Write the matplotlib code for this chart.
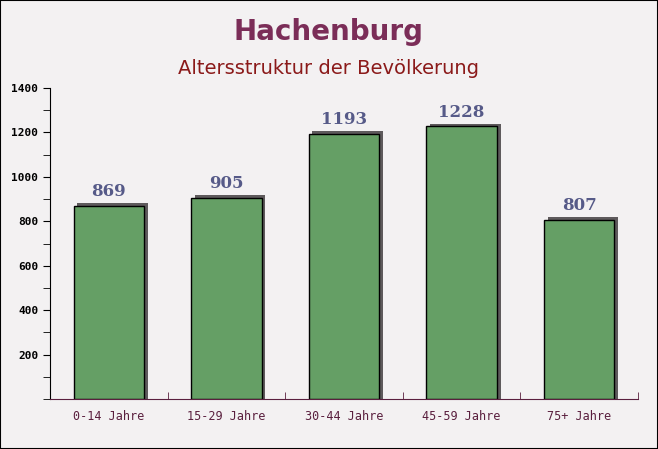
import matplotlib
matplotlib.use('Agg')
import matplotlib.pyplot as plt
from matplotlib.ticker import MultipleLocator

categories = ['0-14 Jahre', '15-29 Jahre', '30-44 Jahre', '45-59 Jahre', '75+ Jahre']
values = [869, 905, 1193, 1228, 807]
y_ticks = [200, 400, 600, 800, 1000, 1200, 1400]

bg = '#f3f1f2'
bar_color = '#659f65'
shadow_color = '#5e5a5c'
label_color = '#5a1f3e'

fig = plt.figure(figsize=(6.58, 4.49), dpi=100, facecolor=bg)
fig.patches.append(plt.Rectangle((0, 0), 1, 1, transform=fig.transFigure,
                                 fill=False, edgecolor='black', linewidth=1.5))
ax = fig.add_axes([50 / 658, 50 / 449, 588 / 658, 311 / 449])
ax.set_facecolor('none')

x = list(range(len(categories)))
# shadow behind each bar
ax.bar([i + 0.032 for i in x], [v + 12 for v in values], width=0.6,
       color=shadow_color, zorder=1)
ax.bar(x, values, width=0.6, color=bar_color, edgecolor='black',
       linewidth=1.0, zorder=2)

for i, v in zip(x, values):
    ax.annotate(str(v), (i, v), xytext=(0, 4), textcoords='offset points',
                ha='center', va='bottom', fontsize=12, fontweight='bold',
                family='DejaVu Serif', color='#565a88')

ax.set_xlim(-0.5, len(categories) - 0.5)
ax.set_ylim(0, 1400)
ax.set_yticks(y_ticks)
ax.yaxis.set_minor_locator(MultipleLocator(100))
ax.set_xticks(x)
ax.set_xticklabels(categories)
ax.set_xticks([i + 0.5 for i in x], minor=True)

ax.tick_params(axis='y', which='both', direction='out', length=5, color='black',
               labelsize=8, labelcolor='black')
ax.tick_params(axis='x', which='major', length=0, pad=8, labelsize=8.5,
               labelcolor=label_color)
ax.tick_params(axis='x', which='minor', direction='in', length=5, color=label_color)
for lab in ax.get_yticklabels():
    lab.set_family('DejaVu Sans Mono')
    lab.set_fontweight('bold')
for lab in ax.get_xticklabels():
    lab.set_family('DejaVu Sans Mono')

ax.spines['top'].set_visible(False)
ax.spines['right'].set_visible(False)
ax.spines['left'].set_color('black')
ax.spines['bottom'].set_color(label_color)

fig.text(0.5, 1 - 32 / 449, 'Hachenburg', ha='center', va='center',
         fontsize=20, fontweight='bold', color='#7b2d58')
fig.text(0.5, 1 - 69 / 449, 'Altersstruktur der Bevölkerung', ha='center',
         va='center', fontsize=14, color='#8b1a1a')

fig.savefig('out.png', dpi=100, facecolor=bg)
